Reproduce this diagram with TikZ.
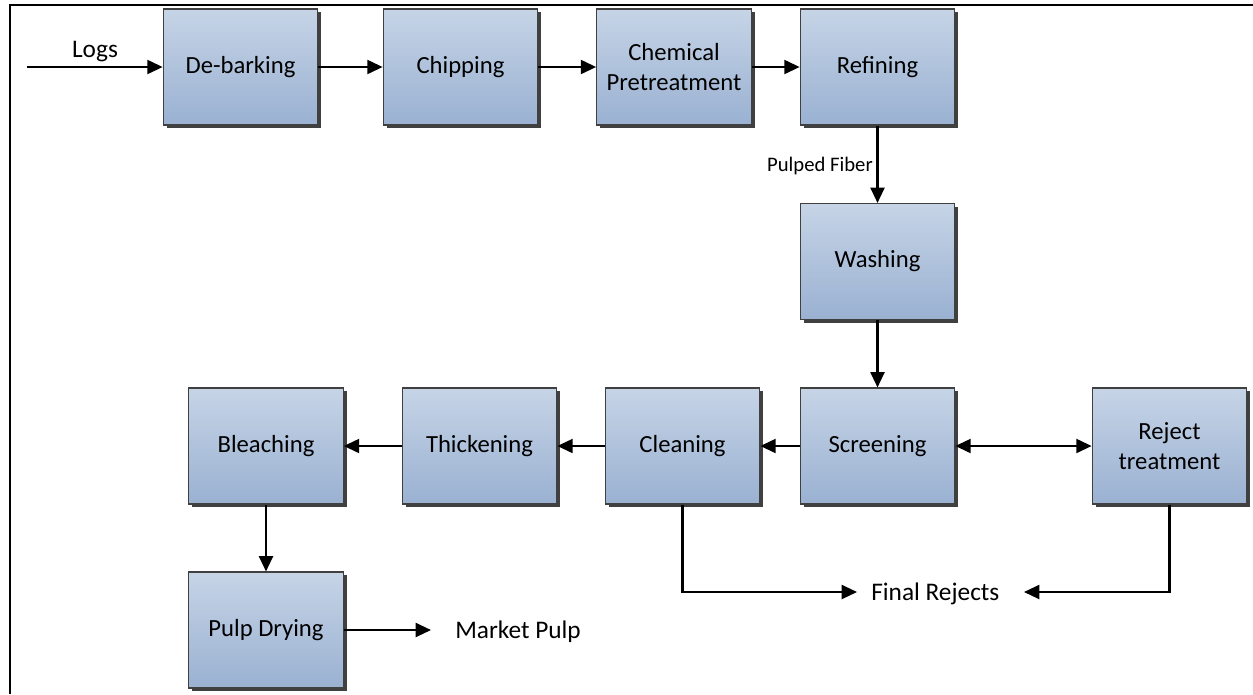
\documentclass[tikz,border=0pt]{standalone}
\usepackage{fontspec}
\setmainfont{Carlito}
\usetikzlibrary{arrows.meta,shadows}
\definecolor{boxtop}{HTML}{C6D4E6}
\definecolor{boxbot}{HTML}{9AB1D2}
\begin{document}
\begin{tikzpicture}[x=0.75pt,y=-0.75pt,
  box/.style={draw=black!75, line width=0.8pt, top color=boxtop, bottom color=boxbot,
    minimum width=116pt, minimum height=87pt, inner sep=0pt, align=center,
    font=\fontsize{18.5}{23}\selectfont, text=black,
    drop shadow={shadow xshift=2.6pt, shadow yshift=-2.6pt, fill=black!75, opacity=1}},
  flow/.style={line width=1.6pt, -{Triangle[length=11.5pt,width=10.5pt]}},
  dflow/.style={line width=1.6pt, {Triangle[length=11.5pt,width=10.5pt]}-{Triangle[length=11.5pt,width=10.5pt]}},
  lbl/.style={font=\fontsize{19}{22}\selectfont, inner sep=0pt, text=black},
  smalllbl/.style={font=\fontsize{15.5}{18}\selectfont, inner sep=0pt, text=black},
  frame/.style={line width=2.1pt}]
\useasboundingbox (0,0) rectangle (1253,694);
\draw[frame] (10,694) -- (10,5) -- (1253,5);

\node[box] (deb) at (240.5,67) {De-barking};
\node[box] (chip) at (460.5,67) {Chipping};
\node[box] (chem) at (674,67) {Chemical\\Pretreatment};
\node[box] (ref) at (877.5,67) {Refining};
\node[box] (wash) at (877.5,261.5) {Washing};
\node[box] (scr) at (877.5,446) {Screening};
\node[box] (rej) at (1169.5,446) {Reject\\treatment};
\node[box] (clean) at (682.5,446) {Cleaning};
\node[box] (thick) at (479.5,446) {Thickening};
\node[box] (bleach) at (266,446) {Bleaching};
\node[box] (pd) at (266,630) {Pulp Drying};

\coordinate (logsin) at (27,67);
\node[lbl, anchor=base] (logs) at (95,57) {Logs};
\node[smalllbl, anchor=base east] (pf) at (873,171) {Pulped Fiber};
\coordinate (mpin) at (431,630);
\node[lbl, anchor=base west] (mp) at (455,638) {Market Pulp};
\node[lbl, anchor=base west] (fr) at (871,600) {Final Rejects};
\coordinate (frL) at (857,592);
\coordinate (frR) at (1024,592);

\draw[flow] (logsin) -- (deb);
\draw[flow] (deb) -- (chip);
\draw[flow] (chip) -- (chem);
\draw[flow] (chem) -- (ref);
\draw[flow] (ref) -- (wash);
\draw[flow] (wash) -- (scr);
\draw[dflow] (scr) -- (rej);
\draw[flow] (scr) -- (clean);
\draw[flow] (clean) -- (thick);
\draw[flow] (thick) -- (bleach);
\draw[flow] (bleach) -- (pd);
\draw[flow] (pd) -- (mpin);
\draw[flow] (clean.south) |- (frL);
\draw[flow] (rej.south) |- (frR);
\end{tikzpicture}
\end{document}
